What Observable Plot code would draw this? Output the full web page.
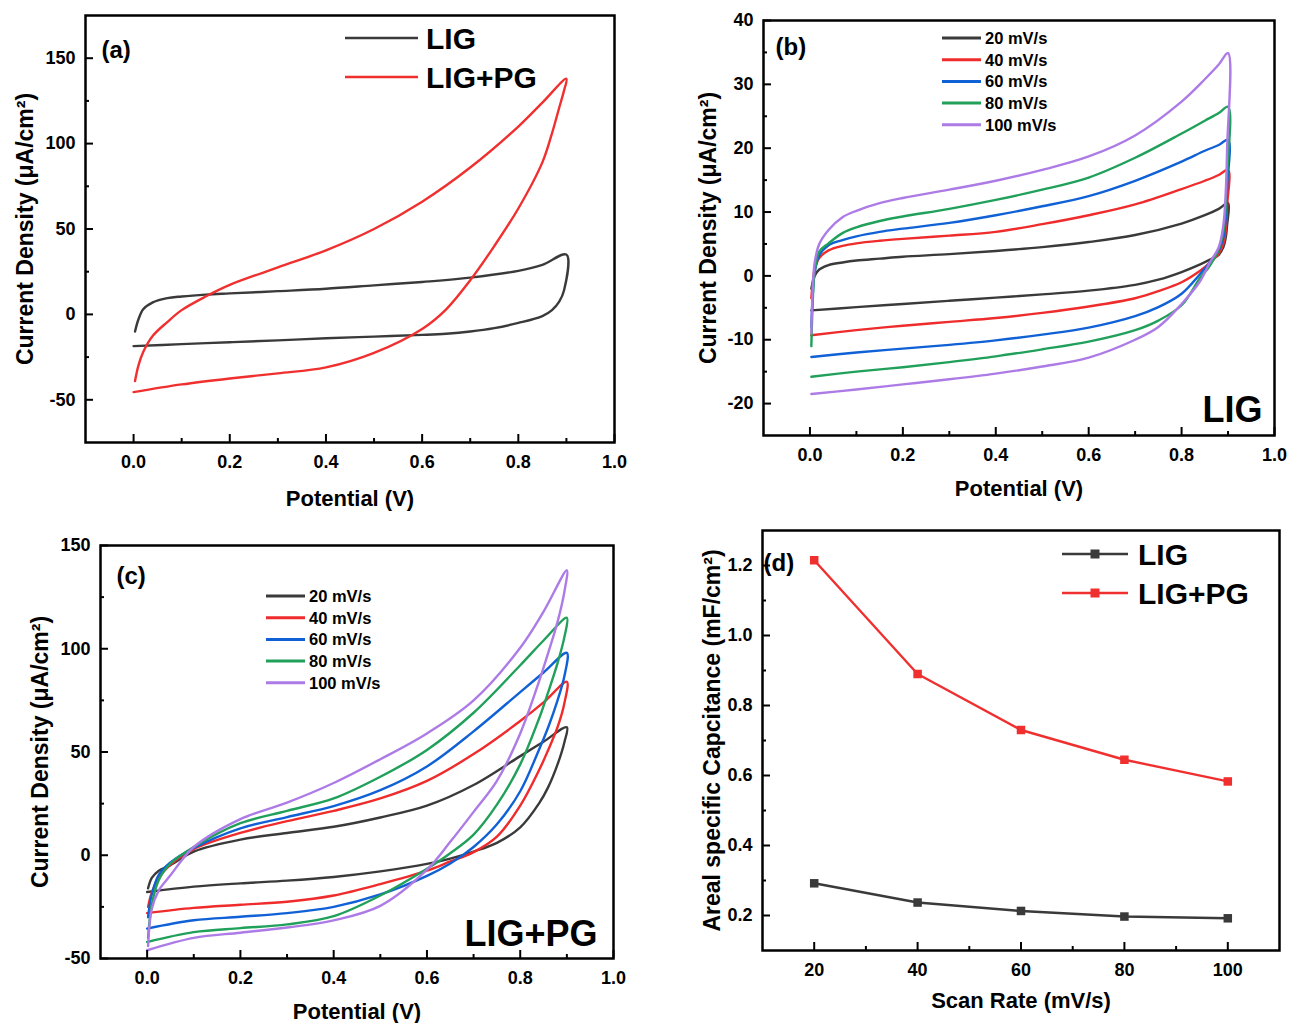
<!DOCTYPE html>
<html><head><meta charset="utf-8">
<script src="https://cdn.jsdelivr.net/npm/d3@7"></script>
<script src="https://cdn.jsdelivr.net/npm/@observablehq/plot@0.6"></script>
<style>
body{margin:0;background:#fff;width:1290px;height:1023px;position:relative;overflow:hidden;font-family:"Liberation Sans",Arial,Helvetica,sans-serif;}
.panel{position:absolute;}
</style></head><body>
<div id="pa" class="panel" style="left:0;top:0"></div>
<div id="pb" class="panel" style="left:650px;top:0"></div>
<div id="pc" class="panel" style="left:0;top:520px"></div>
<div id="pd" class="panel" style="left:650px;top:520px"></div>
<script>
// ---------------- DATA ----------------
// Panel (a): LIG vs LIG+PG CV
const seriesA = ["LIG", "LIG+PG"];
const colorsA = ["#3a3a3a", "#f0302f"];
const potA_fwd = [0.003, 0.01, 0.02, 0.04, 0.07, 0.1, 0.15, 0.2, 0.3, 0.4, 0.5, 0.6, 0.7, 0.8, 0.85, 0.9];
const jA_LIG_fwd = [-10, -3, 3, 7, 9.5, 10.5, 11.6, 12.3, 13.6, 15, 17, 19, 21.5, 25.5, 29, 35];
const jA_PG_fwd = [-39, -30, -22, -12.5, -4.5, 2.5, 10.5, 17.3, 27.5, 37.5, 50, 66, 86, 110, 124, 138];
const potA_rev = [0.9, 0.895, 0.885, 0.87, 0.85, 0.8, 0.75, 0.7, 0.65, 0.6, 0.5, 0.4, 0.3, 0.2, 0.1, 0.0];
const jA_LIG_rev = [35, 14, 7.5, 2.5, -1, -5, -8, -10, -11.3, -12, -13, -14, -15.2, -16.3, -17.4, -18.6];
const jA_PG_rev = [138, 131, 121, 106, 89, 62, 40, 20, 3, -8.5, -22.5, -31, -34.5, -37.5, -41, -45.5];

// Panels (b) and (c): scan rates
const rateNames = ["20 mV/s", "40 mV/s", "60 mV/s", "80 mV/s", "100 mV/s"];
const rateColors = ["#3a3a3a", "#ef2b2b", "#1060d6", "#20a05a", "#ad7be6"];

// Panel (b): LIG
const potB_fwd = [0.003, 0.006, 0.01, 0.02, 0.04, 0.07, 0.1, 0.15, 0.2, 0.3, 0.4, 0.5, 0.6, 0.7, 0.8, 0.85, 0.88, 0.9];
const jB20_fwd  = [-2, -1, 0, 1, 1.7, 2.1, 2.4, 2.7, 3, 3.4, 3.9, 4.5, 5.3, 6.4, 8.2, 9.5, 10.5, 11.4];
const jB40_fwd  = [-3.5, -1, 1, 2.8, 4, 4.7, 5.1, 5.5, 5.8, 6.3, 6.9, 8.1, 9.5, 11.2, 13.6, 14.9, 15.8, 16.6];
const jB60_fwd  = [-8, -3, 0.5, 3.2, 4.8, 5.6, 6.2, 6.9, 7.4, 8.3, 9.5, 10.9, 12.5, 14.9, 17.9, 19.6, 20.5, 21.3];
const jB80_fwd  = [-11, -4, 0.5, 3.8, 5.1, 6.7, 7.6, 8.6, 9.3, 10.5, 11.9, 13.5, 15.4, 18.5, 22.3, 24.3, 25.5, 26.5];
const jB100_fwd = [-9, -2, 2, 5, 7.2, 9.2, 10.2, 11.4, 12.2, 13.5, 14.9, 16.6, 18.7, 22, 27.3, 30.8, 33.1, 34.9];
const potB_rev = [0.9, 0.898, 0.895, 0.89, 0.88, 0.86, 0.84, 0.8, 0.75, 0.7, 0.6, 0.5, 0.4, 0.3, 0.2, 0.1, 0.003];
const jB20_rev  = [11.4, 8, 6, 4.5, 3.3, 2.5, 1.8, 0.6, -0.6, -1.4, -2.3, -2.9, -3.4, -3.9, -4.4, -4.9, -5.4];
const jB40_rev  = [16.6, 11, 7, 5, 3.5, 2, 0.8, -1, -2.4, -3.5, -4.8, -5.8, -6.6, -7.2, -7.8, -8.5, -9.3];
const jB60_rev  = [21.3, 14, 9, 6, 4, 2, 0.3, -2.8, -4.9, -6.3, -8.1, -9.2, -10.1, -10.8, -11.4, -12, -12.7];
const jB80_rev  = [26.5, 16, 11, 7, 4.2, 1.5, -0.3, -4.6, -7, -8.5, -10.3, -11.5, -12.6, -13.5, -14.3, -15, -15.8];
const jB100_rev = [34.9, 20, 13, 8, 4.5, 2, -0.8, -4.4, -8, -10, -12.8, -14.2, -15.3, -16.2, -17, -17.8, -18.5];

// Panel (c): LIG+PG
const potC_fwd = [0.002, 0.01, 0.025, 0.05, 0.1, 0.2, 0.3, 0.4, 0.5, 0.6, 0.7, 0.8, 0.85, 0.9];
const jC20_fwd  = [-16, -11, -7.5, -4.8, 1.8, 7.6, 10.8, 13.8, 18.3, 24, 34, 48, 55, 62];
const jC40_fwd  = [-25, -18, -11, -4.5, 3, 10.8, 16.5, 21.5, 27.5, 36, 49, 65, 74, 84];
const jC60_fwd  = [-30, -19, -9.5, -3.5, 3.5, 13, 18.5, 23.8, 31.5, 43, 60, 79, 88.5, 98];
const jC80_fwd  = [-40, -24, -12, -4, 4, 15.5, 21.5, 27.5, 38, 51, 69, 92, 104, 115];
const jC100_fwd = [-44, -26, -17, -9.7, 4, 17.5, 25.5, 35, 46.5, 59, 75, 100.5, 118, 138];
const potC_rev = [0.9, 0.895, 0.88, 0.86, 0.84, 0.8, 0.75, 0.7, 0.65, 0.6, 0.5, 0.4, 0.3, 0.2, 0.1, 0.0];
const jC20_rev  = [62, 55, 44, 33, 25, 13.5, 6, 1.8, -1.6, -4.2, -7.8, -10.5, -12.3, -13.6, -15.2, -17.8];
const jC40_rev  = [84, 74, 62, 51, 41, 24, 9, 1.5, -3, -7.5, -14, -19.5, -22.5, -24, -25.5, -28];
const jC60_rev  = [98, 87, 75, 62, 51, 31, 15, 4, -4, -10, -19, -25, -28, -29.8, -31.5, -35.5];
const jC80_rev  = [115, 106, 93, 79, 66, 44, 24.5, 10, 1, -6.5, -19.5, -29.5, -33.5, -35.3, -37.2, -42];
const jC100_rev = [138, 128, 113, 98, 84, 59, 36, 21, 6.5, -7, -24.5, -31.5, -35, -37.5, -40, -46];

// Panel (d): areal capacitance
const scanRates = [20, 40, 60, 80, 100];
const capLIG = [0.292, 0.237, 0.213, 0.197, 0.192];
const capLIGPG = [1.215, 0.89, 0.73, 0.645, 0.583];

// Ticks
const ticksV = [0, 0.2, 0.4, 0.6, 0.8, 1.0];
const minorV = [0.1, 0.3, 0.5, 0.7, 0.9];
const ticksA = [-50, 0, 50, 100, 150];
const minorA = [-25, 25, 75, 125];
const ticksB = [-20, -10, 0, 10, 20, 30, 40];
const minorB = [-15, -5, 5, 15, 25, 35];
const ticksC = [-50, 0, 50, 100, 150];
const minorC = [-25, 25, 75, 125];
const ticksDx = [20, 40, 60, 80, 100];
const minorDx = [30, 50, 70, 90];
const ticksDy = [0.2, 0.4, 0.6, 0.8, 1.0, 1.2];
const minorDy = [0.3, 0.5, 0.7, 0.9, 1.1];

// ---------------- HELPERS ----------------
const FONT = '"Liberation Sans", Arial, Helvetica, sans-serif';
const STYLE = {fontFamily: FONT, fontSize: "18px", fontWeight: "bold", color: "#000", background: "transparent", overflow: "visible"};

function buildRows(names, fwdV, fwdJs, revV, revJs) {
  const rows = [];
  names.forEach((name, k) => {
    fwdV.forEach((v, i) => rows.push({s: name, v, j: fwdJs[k][i]}));
    revV.forEach((v, i) => { if (i > 0) rows.push({s: name, v, j: revJs[k][i]}); });
  });
  return rows;
}

function frameMarks(c) {
  return [
    Plot.axisX({ticks: c.xTicks, tickSize: -8, tickPadding: 21, strokeWidth: 2, tickFormat: c.xFmt, fontSize: 18, fontWeight: "bold", label: null}),
    Plot.axisX({ticks: c.xMinor, tickSize: -4, tickPadding: 0, strokeWidth: 2, tickFormat: () => "", label: null}),
    Plot.axisY({ticks: c.yTicks, tickSize: -8, tickPadding: 18, strokeWidth: 2, tickFormat: c.yFmt, fontSize: 18, fontWeight: "bold", label: null}),
    Plot.axisY({ticks: c.yMinor, tickSize: -4, tickPadding: 0, strokeWidth: 2, tickFormat: () => "", label: null}),
    Plot.frame({stroke: "#000", strokeWidth: 2.5}),
    Plot.text([c.ylabel], {frameAnchor: "left", rotate: -90, dx: c.ylabelDx, textAnchor: "middle", lineAnchor: "middle", text: d => d, fontSize: 23, fontWeight: "bold", fill: "#000"}),
    Plot.text([c.xlabel], {frameAnchor: "bottom", dy: c.xlabelDy, textAnchor: "middle", lineAnchor: "middle", text: d => d, fontSize: 22, fontWeight: "bold", fill: "#000"})
  ];
}
function tag(label, anchor, dx, dy, size, ta) {
  return Plot.text([label], {frameAnchor: anchor, dx, dy, textAnchor: ta, lineAnchor: "middle", text: d => d, fontSize: size, fontWeight: "bold", fill: "#000"});
}

const fmt1 = d => d.toFixed(1);
const fmtI = d => String(d);
const jLabel = "Current Density (\u03bcA/cm\u00b2)";

// ---------------- PANEL (a) ----------------
const rowsA = buildRows(seriesA, potA_fwd, [jA_LIG_fwd, jA_PG_fwd], potA_rev, [jA_LIG_rev, jA_PG_rev]);
document.getElementById("pa").append(Plot.plot({
  width: 650, height: 520,
  marginLeft: 85, marginRight: 36, marginTop: 15, marginBottom: 78,
  style: STYLE,
  x: {domain: [-0.1, 1.0]},
  y: {domain: [-75, 175]},
  color: {domain: seriesA, range: colorsA},
  marks: [
    Plot.line(rowsA, {x: "v", y: "j", z: "s", stroke: "s", strokeWidth: 2.4, curve: "catmull-rom"}),
    ...frameMarks({xTicks: ticksV, xMinor: minorV, xFmt: fmt1, yTicks: ticksA, yMinor: minorA, yFmt: fmtI,
      ylabel: jLabel, ylabelDx: -60, xlabel: "Potential (V)", xlabelDy: 56}),
    tag("(a)", "top-left", 16, 35, 24, "start")
  ]
}));

// ---------------- PANEL (b) ----------------
const rowsB = buildRows(rateNames, potB_fwd, [jB20_fwd, jB40_fwd, jB60_fwd, jB80_fwd, jB100_fwd],
  potB_rev, [jB20_rev, jB40_rev, jB60_rev, jB80_rev, jB100_rev]);
document.getElementById("pb").append(Plot.plot({
  width: 640, height: 520,
  marginLeft: 113, marginRight: 16, marginTop: 20, marginBottom: 85,
  style: STYLE,
  x: {domain: [-0.1, 1.0]},
  y: {domain: [-25, 40]},
  color: {domain: rateNames, range: rateColors},
  marks: [
    Plot.line(rowsB, {x: "v", y: "j", z: "s", stroke: "s", strokeWidth: 2.4, curve: "catmull-rom"}),
    ...frameMarks({xTicks: ticksV, xMinor: minorV, xFmt: fmt1, yTicks: ticksB, yMinor: minorB, yFmt: fmtI,
      ylabel: jLabel, ylabelDx: -55, xlabel: "Potential (V)", xlabelDy: 53}),
    tag("(b)", "top-left", 12, 27, 24, "start"),
    tag("LIG", "bottom-right", -12, -25, 36, "end")
  ]
}));

// ---------------- PANEL (c) ----------------
const rowsC = buildRows(rateNames, potC_fwd, [jC20_fwd, jC40_fwd, jC60_fwd, jC80_fwd, jC100_fwd],
  potC_rev, [jC20_rev, jC40_rev, jC60_rev, jC80_rev, jC100_rev]);
document.getElementById("pc").append(Plot.plot({
  width: 650, height: 503,
  marginLeft: 100, marginRight: 37, marginTop: 25, marginBottom: 65,
  style: STYLE,
  x: {domain: [-0.1, 1.0]},
  y: {domain: [-50, 150]},
  color: {domain: rateNames, range: rateColors},
  marks: [
    Plot.line(rowsC, {x: "v", y: "j", z: "s", stroke: "s", strokeWidth: 2.4, curve: "catmull-rom"}),
    ...frameMarks({xTicks: ticksV, xMinor: minorV, xFmt: fmt1, yTicks: ticksC, yMinor: minorC, yFmt: fmtI,
      ylabel: jLabel, ylabelDx: -60, xlabel: "Potential (V)", xlabelDy: 53}),
    tag("(c)", "top-left", 16, 31, 24, "start"),
    tag("LIG+PG", "bottom-right", -16, -24, 36, "end")
  ]
}));

// ---------------- PANEL (d) ----------------
const rowsD = [];
scanRates.forEach((r, i) => rowsD.push({s: "LIG", r, c: capLIG[i]}));
scanRates.forEach((r, i) => rowsD.push({s: "LIG+PG", r, c: capLIGPG[i]}));
document.getElementById("pd").append(Plot.plot({
  width: 640, height: 503,
  marginLeft: 112, marginRight: 11, marginTop: 10, marginBottom: 73,
  style: STYLE,
  x: {domain: [10, 110]},
  y: {domain: [0.1, 1.3]},
  color: {domain: seriesA, range: colorsA},
  marks: [
    Plot.line(rowsD, {x: "r", y: "c", z: "s", stroke: "s", strokeWidth: 2.4}),
    Plot.dot(rowsD, {x: "r", y: "c", fill: "s", symbol: "square", r: 4.8}),
    ...frameMarks({xTicks: ticksDx, xMinor: minorDx, xFmt: fmtI, yTicks: ticksDy, yMinor: minorDy, yFmt: fmt1,
      ylabel: "Areal specific Capcitance (mF/cm\u00b2)", ylabelDx: -50, xlabel: "Scan Rate (mV/s)", xlabelDy: 50}),
    tag("(d)", "top-left", 1, 33, 24, "start")
  ]
}));

// ---------------- LEGENDS ----------------
const overlay = d3.select("body").append("svg")
  .attr("width", 1290).attr("height", 1023)
  .style("position", "absolute").style("left", 0).style("top", 0).style("pointer-events", "none");

function legend({x1, x2, tx, y0, dy, labels, colors, fontSize, lw, marker}) {
  labels.forEach((lab, i) => {
    const y = y0 + i * dy;
    overlay.append("line").attr("x1", x1).attr("x2", x2).attr("y1", y).attr("y2", y)
      .attr("stroke", colors[i]).attr("stroke-width", lw);
    if (marker) {
      overlay.append("rect").attr("x", (x1 + x2) / 2 - marker / 2).attr("y", y - marker / 2)
        .attr("width", marker).attr("height", marker).attr("fill", colors[i]);
    }
    overlay.append("text").attr("x", tx).attr("y", y).attr("dominant-baseline", "central")
      .attr("font-family", FONT).attr("font-weight", "bold").attr("font-size", fontSize)
      .attr("fill", "#000").text(lab);
  });
}
legend({x1: 345, x2: 418, tx: 426, y0: 38, dy: 39, labels: seriesA, colors: colorsA, fontSize: 30, lw: 2.6});
legend({x1: 942, x2: 981, tx: 985, y0: 38, dy: 21.7, labels: rateNames, colors: rateColors, fontSize: 16.5, lw: 3});
legend({x1: 266, x2: 305, tx: 309, y0: 596, dy: 21.7, labels: rateNames, colors: rateColors, fontSize: 16.5, lw: 3});
legend({x1: 1062, x2: 1128, tx: 1138, y0: 554, dy: 39, labels: seriesA, colors: colorsA, fontSize: 30, lw: 2.6, marker: 9});
</script>
</body></html>
